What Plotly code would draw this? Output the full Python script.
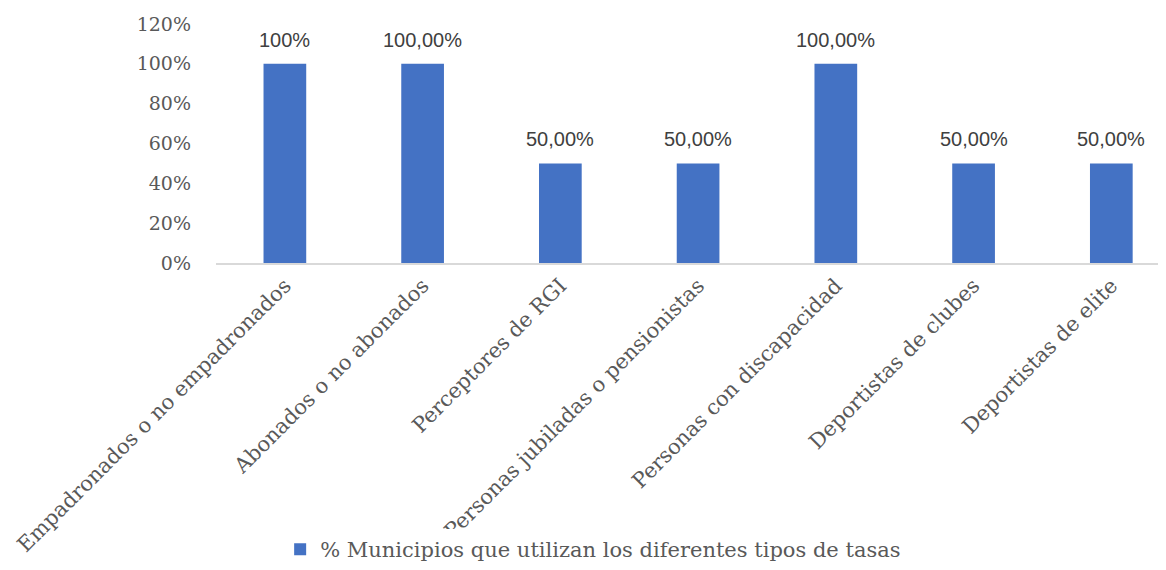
import plotly.graph_objects as go

categories = ["Empadronados o no empadronados", "Abonados o no abonados", "Perceptores de RGI",
              "Personas jubiladas o pensionistas", "Personas con discapacidad",
              "Deportistas de clubes", "Deportistas de elite"]
values = [1.0, 1.0, 0.5, 0.5, 1.0, 0.5, 0.5]
labels = ["100%", "100,00%", "50,00%", "50,00%", "100,00%", "50,00%", "50,00%"]
series_name = "% Municipios que utilizan los diferentes tipos de tasas"
yticks = [0, 0.2, 0.4, 0.6, 0.8, 1.0, 1.2]
yticktext = ["0%", "20%", "40%", "60%", "80%", "100%", "120%"]

SERIF = "DejaVu Serif"
fig = go.Figure()
fig.add_trace(go.Bar(x=list(range(len(categories))), y=values, width=0.31,
                     marker=dict(color="#4472C4", line=dict(width=0)),
                     name=series_name, showlegend=True))
for i, (v, t) in enumerate(zip(values, labels)):
    fig.add_annotation(x=i, y=v, text=t, showarrow=False, yanchor="bottom", yshift=11,
                       font=dict(family="Liberation Sans", size=20, color="#404040"))

fig.update_layout(
    width=1158, height=562, plot_bgcolor="white", paper_bgcolor="white",
    margin=dict(l=208, r=0, t=16, b=297),
    xaxis=dict(tickmode="array", tickvals=list(range(len(categories))), ticktext=categories,
               tickangle=-45, range=[-0.5, 6.397], showline=True, linecolor="#d9d9d9", linewidth=2,
               ticks="", automargin=False,
               tickfont=dict(family=SERIF, size=21, color="#595959"), showgrid=False),
    yaxis=dict(range=[0, 1.2], tickmode="array", tickvals=yticks, ticktext=yticktext,
               showgrid=False, zeroline=False, ticks="", ticklabelstandoff=24, automargin=False,
               tickfont=dict(family=SERIF, size=19, color="#595959")),
    legend=dict(orientation="h", x=0.397, xanchor="center", y=-1.2, yanchor="middle",
                itemwidth=30, font=dict(family=SERIF, size=21, color="#595959")),
)
fig.write_html("out.html")
